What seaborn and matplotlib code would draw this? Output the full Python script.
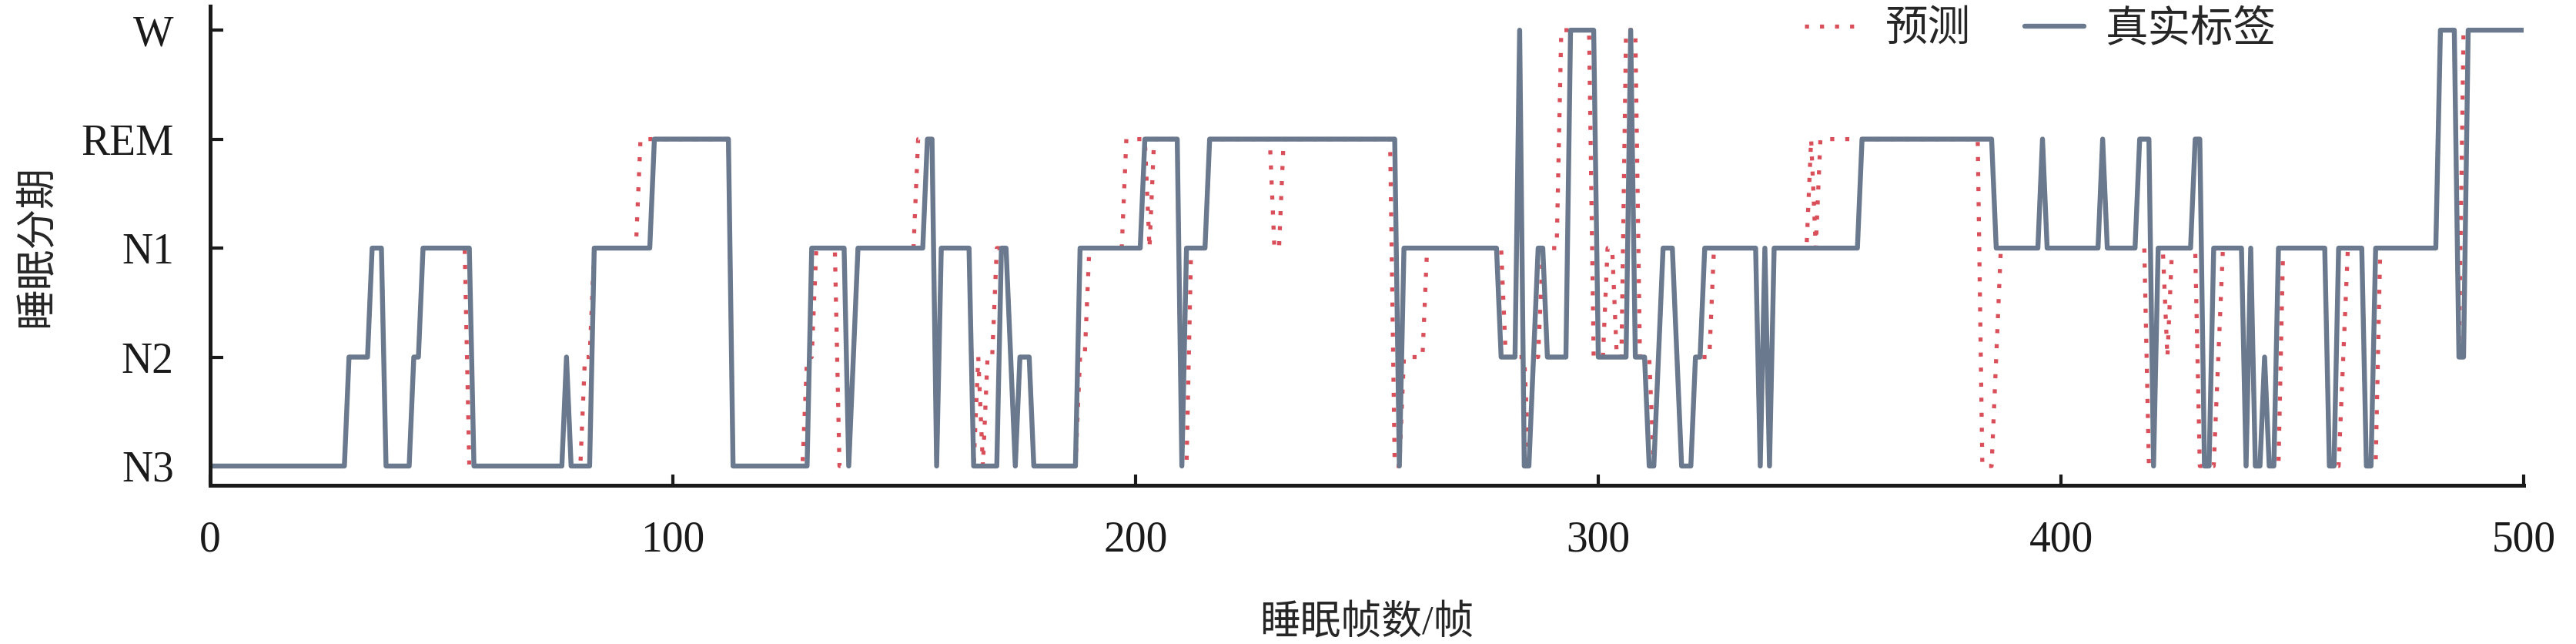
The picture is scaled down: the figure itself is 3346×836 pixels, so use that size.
import numpy as np
import pandas as pd
import matplotlib
matplotlib.use('Agg')
import matplotlib.pyplot as plt
import seaborn as sns

# sleep stage codes: 0=N3, 1=N2, 2=N1, 3=REM, 4=W
stage_labels = ['N3', 'N2', 'N1', 'REM', 'W']
x_ticks = [0, 100, 200, 300, 400, 500]

# ground truth hypnogram, run-length encoded (stage, number of frames)
true_stage = [0, 1, 2, 0, 1, 2, 0, 1, 0, 2, 3, 0, 2, 0, 1, 2, 3, 0, 2, 0,
              2, 1, 0, 1, 0, 2, 3, 0, 2, 3, 0, 2, 1, 4, 0, 1, 2, 1, 4, 1,
              4, 1, 0, 1, 2, 1, 0, 1, 2, 0, 2, 0, 2, 3, 2, 3, 2, 3, 2, 3,
              0, 2, 3, 0, 2, 0, 2, 0, 1, 0, 2, 0, 2, 0, 2, 4, 1, 4]
true_len = [30, 5, 3, 6, 2, 11, 20, 1, 5, 13, 17, 17, 8, 1, 1, 15, 2, 1, 7, 6,
            2, 1, 1, 3, 10, 14, 8, 1, 5, 41, 1, 21, 4, 1, 2, 1, 2, 5, 6, 7,
            1, 3, 2, 1, 3, 1, 3, 2, 12, 1, 1, 1, 19, 29, 10, 1, 12, 1, 7, 3,
            1, 8, 2, 2, 7, 1, 1, 2, 1, 2, 11, 2, 6, 2, 14, 4, 2, 13]

# model prediction, run-length encoded
pred_stage = [0, 1, 2, 0, 1, 2, 0, 1, 0, 1, 2, 3, 0, 1, 2, 0, 1, 2, 3, 0,
              2, 0, 1, 0, 1, 2, 1, 0, 1, 0, 1, 2, 3, 2, 3, 0, 2, 3, 2, 3,
              0, 1, 2, 1, 0, 1, 2, 4, 1, 2, 1, 4, 1, 0, 1, 2, 1, 0, 1, 2,
              0, 2, 0, 2, 3, 2, 3, 0, 1, 2, 3, 2, 3, 2, 0, 2, 1, 2, 0, 1,
              2, 0, 2, 0, 1, 0, 2, 0, 1, 2, 0, 2, 4, 1, 4]
pred_len = [30, 5, 3, 6, 2, 10, 21, 1, 3, 2, 10, 20, 16, 2, 5, 3, 1, 13, 4, 1,
            7, 1, 1, 1, 2, 3, 1, 1, 3, 10, 2, 8, 5, 1, 6, 2, 4, 14, 2, 24,
            2, 5, 17, 5, 1, 2, 4, 7, 3, 2, 2, 3, 3, 1, 1, 3, 1, 3, 4, 10,
            1, 1, 1, 8, 1, 1, 35, 3, 1, 9, 1, 12, 1, 9, 2, 2, 1, 6, 4, 1,
            5, 1, 1, 2, 1, 3, 10, 3, 1, 4, 3, 13, 4, 1, 14]

true_seq = np.repeat(true_stage, true_len)
pred_seq = np.repeat(pred_stage, pred_len)
df = pd.DataFrame({'frame': np.arange(len(true_seq)),
                   'true': true_seq, 'pred': pred_seq})

sns.set_theme(style='ticks')
plt.rcParams['font.family'] = ['Liberation Serif', 'Noto Sans CJK SC']
plt.rcParams['axes.unicode_minus'] = False

fig = plt.figure(figsize=(33.46, 8.36), dpi=100)
ax = fig.add_axes([0.0816, 0.2464, 0.8981, 0.7440])

pred_color = '#D9505B'
true_color = '#6A798D'

# prediction under, ground truth on top
sns.lineplot(data=df, x='frame', y='pred', ax=ax, color=pred_color,
             lw=3.8, linestyle=(0, (1, 2.7)), label='预测', estimator=None)
sns.lineplot(data=df, x='frame', y='true', ax=ax, color=true_color,
             lw=4.6, label='真实标签', estimator=None)

ax.set_xlim(0, 500)
ax.set_ylim(-0.177, 4.22)
ax.set_xticks(x_ticks)
ax.set_yticks(range(len(stage_labels)))
ax.set_yticklabels(stage_labels)
ax.set_xlabel('睡眠帧数/帧', fontsize=38)
ax.set_ylabel('睡眠分期', fontsize=38)
ax.xaxis.set_label_coords(0.5, -0.25)
ax.yaxis.set_label_coords(-0.0745, 0.5)
ax.xaxis.label.set_va('top')
ax.yaxis.label.set_va('center')
ax.yaxis.label.set_ha('center')

ax.tick_params(axis='y', direction='in', length=12, width=3, pad=34,
               labelsize=40, colors='#1a1a1a')
ax.tick_params(axis='x', direction='in', length=10, width=3, pad=33,
               labelsize=40, colors='#1a1a1a')
sns.despine(ax=ax)
for side in ['left', 'bottom']:
    ax.spines[side].set_linewidth(3.6)
    ax.spines[side].set_color('#1a1a1a')

ax.legend(loc='center left', bbox_to_anchor=(0.689, 0.95), ncol=2,
          frameon=False, fontsize=40, borderpad=0, borderaxespad=0,
          handlelength=1.4, handletextpad=0.5, columnspacing=1.25)

fig.savefig('out.png', dpi=100)
